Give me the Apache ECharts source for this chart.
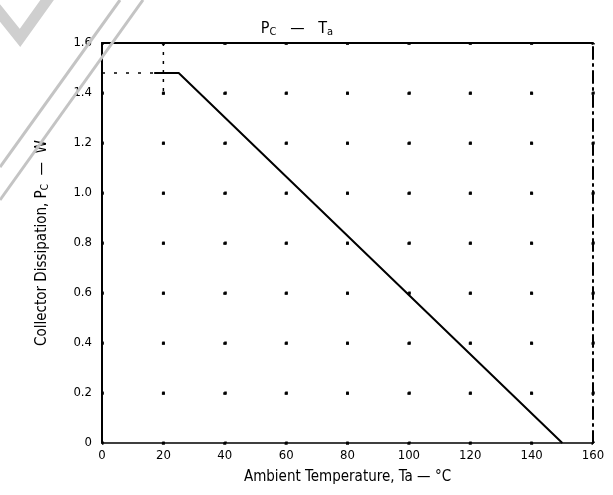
<!DOCTYPE html>
<html><head><meta charset="utf-8">
<script src="https://cdn.jsdelivr.net/npm/echarts@6/dist/echarts.min.js"></script>
<style>html,body{margin:0;padding:0;background:#fff}#c{width:613px;height:495px}</style>
</head><body><div id="c"></div>
<script>
var xTicks = [0, 20, 40, 60, 80, 100, 120, 140, 160];
var yTicks = [0, 0.2, 0.4, 0.6, 0.8, 1.0, 1.2, 1.4, 1.6];
var curveTa = [17, 25, 150];
var curvePc = [1.48, 1.48, 0];
var guideTa = [0, 17];
var guidePc = [1.48, 1.48];
var vGuideTa = [20, 20];
var vGuidePc = [1.6, 1.4];

var chart = echarts.init(document.getElementById('c'));
var F = '"Liberation Sans Narrow", "DejaVu Sans Condensed", Arial, sans-serif';
function pairs(a, b) { return a.map(function (v, i) { return [v, b[i]]; }); }
var option = {
  backgroundColor: '#fff',
  animation: false,
  title: {
    text: '{p|P}{s|C}{p|   —   T}{s|a}',
    left: 292, top: 15, textAlign: 'center',
    textStyle: { rich: {
      p: { fontFamily: F, fontSize: 16, fontWeight: 'normal', color: '#000' },
      s: { fontFamily: F, fontSize: 11, fontWeight: 'normal', color: '#000', verticalAlign: 'bottom', padding: [7, 0, 0, 0] }
    } }
  },
  grid: { left: 102, right: 20, top: 43, bottom: 52 },
  xAxis: [{
    type: 'value', min: 0, max: 160, interval: 20,
    name: 'Ambient Temperature, Ta — °C', nameLocation: 'middle', nameGap: 27,
    nameTextStyle: { fontFamily: F, fontSize: 15, color: '#000' },
    axisLine: { show: true, lineStyle: { color: '#000', width: 1.5 } },
    axisTick: { show: false },
    axisLabel: { fontFamily: F, fontSize: 13, color: '#000', margin: 6,
      formatter: function (v) { return xTicks.indexOf(v) >= 0 ? String(v) : ''; } },
    splitLine: { show: true, lineStyle: { color: '#000', width: 2.5, type: [3, 47], dashOffset: 1.5 } }
  }, {
    type: 'value', min: 0, max: 160, interval: 20, position: 'top',
    axisLine: { show: true, onZero: false, lineStyle: { color: '#000', width: 2 } },
    axisTick: { show: false }, axisLabel: { show: false }, splitLine: { show: false }
  }],
  yAxis: [{
    type: 'value', min: 0, max: 1.6, interval: 0.2,
    name: 'Collector Dissipation, {i|P}{s|C}  —  W', nameLocation: 'middle', nameGap: 52,
    nameTextStyle: { fontFamily: F, fontSize: 15, color: '#000',
      rich: { i: { fontFamily: F, fontSize: 15, color: '#000' },
              s: { fontFamily: F, fontSize: 10, color: '#000', verticalAlign: 'bottom', padding: [6, 0, 0, 0] } } },
    axisLine: { show: true, lineStyle: { color: '#000', width: 2 } },
    axisTick: { show: false },
    axisLabel: { fontFamily: F, fontSize: 13, color: '#000', margin: 10,
      formatter: function (v) { return yTicks.indexOf(Math.round(v * 10) / 10) < 0 ? '' : (v === 0 ? '0' : v.toFixed(1)); } },
    splitLine: { show: true, lineStyle: { color: '#000', width: 2.5, type: [3, 58.375], dashOffset: 1.5 } }
  }, {
    type: 'value', min: 0, max: 1.6, interval: 0.2, position: 'right',
    axisLine: { show: true, onZero: false, lineStyle: { color: '#000', width: 2, type: [12, 5, 2, 5] } },
    axisTick: { show: false }, axisLabel: { show: false }, splitLine: { show: false }
  }],
  series: [{
    type: 'line', data: pairs(curveTa, curvePc), symbol: 'none',
    lineStyle: { color: '#000', width: 2 }
  }, {
    type: 'line', data: pairs(guideTa, guidePc), symbol: 'none',
    lineStyle: { color: '#000', width: 1.5, type: [3, 9] }
  }, {
    type: 'line', data: pairs(vGuideTa, vGuidePc), symbol: 'none',
    lineStyle: { color: '#000', width: 1.5, type: [3, 6] }
  }],
  graphic: [
    { type: 'polyline', shape: { points: [[-4, 8], [20, 38], [50, -4]] }, style: { stroke: '#cfcfcf', lineWidth: 11, fill: null }, z: 100 },
    { type: 'line', shape: { x1: 120, y1: 0, x2: 0, y2: 167 }, style: { stroke: '#c4c4c4', lineWidth: 3 }, z: 100 },
    { type: 'line', shape: { x1: 143, y1: 0, x2: 0, y2: 200 }, style: { stroke: '#c4c4c4', lineWidth: 3 }, z: 100 }
  ]
};
chart.setOption(option);
</script></body></html>
